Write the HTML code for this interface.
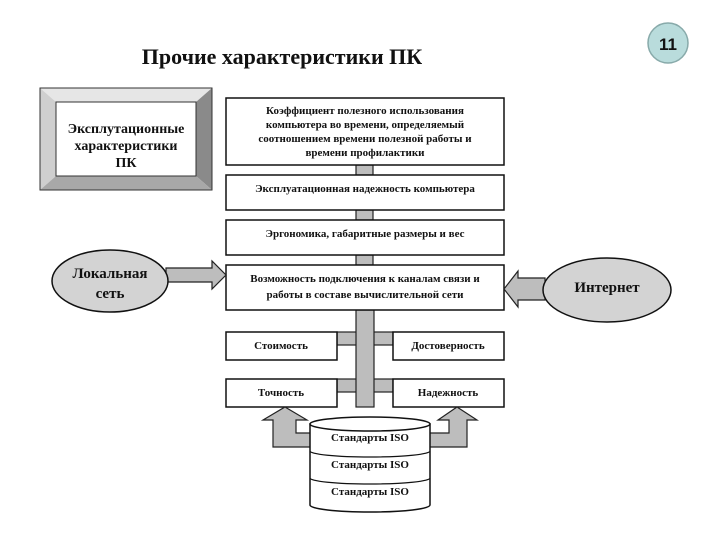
<!DOCTYPE html>
<html><head><meta charset="utf-8"><style>
body{margin:0;background:#fff}
svg{display:block}
text{font-family:"Liberation Serif",serif;font-weight:bold;fill:#111}
</style></head><body>
<svg width="720" height="540" viewBox="0 0 720 540">
<text x="282" y="64" font-size="22" text-anchor="middle">Прочие характеристики ПК</text>
<circle cx="668" cy="43" r="20" fill="#b9dcdc" stroke="#8aa" stroke-width="1.5"/>
<text x="668" y="50" font-size="17" text-anchor="middle" style="font-family:'Liberation Sans',sans-serif;font-weight:bold">11</text>
<!-- bevel -->
<polygon points="40,88 212,88 196,102 56,102" fill="#e6e6e6"/>
<polygon points="40,88 56,102 56,176 40,190" fill="#cfcfcf"/>
<polygon points="212,88 212,190 196,176 196,102" fill="#8a8a8a"/>
<polygon points="40,190 212,190 196,176 56,176" fill="#a8a8a8"/>
<rect x="40" y="88" width="172" height="102" fill="none" stroke="#333" stroke-width="1"/>
<rect x="56" y="102" width="140" height="74" fill="#fff" stroke="#333" stroke-width="1"/>
<text font-size="14" text-anchor="middle"><tspan x="126" y="133">Эксплутационные</tspan><tspan x="126" y="150">характеристики</tspan><tspan x="126" y="167">ПК</tspan></text>
<!-- connectors -->
<g fill="#bdbdbd" stroke="#222" stroke-width="1.2">
<rect x="356" y="165" width="17" height="10"/>
<rect x="356" y="210" width="17" height="10"/>
<rect x="356" y="255" width="17" height="10"/>
<rect x="337" y="332" width="56" height="13"/>
<rect x="337" y="379" width="56" height="13"/>
<rect x="356" y="310" width="18" height="97"/>
</g>
<g fill="#fff" stroke="#111" stroke-width="1.5">
<rect x="226" y="98" width="278" height="67"/>
<rect x="226" y="175" width="278" height="35"/>
<rect x="226" y="220" width="278" height="35"/>
<rect x="226" y="265" width="278" height="45"/>
<rect x="226" y="332" width="111" height="28"/>
<rect x="393" y="332" width="111" height="28"/>
<rect x="226" y="379" width="111" height="28"/>
<rect x="393" y="379" width="111" height="28"/>
</g>
<g font-size="11" text-anchor="middle">
<text x="365" y="114">Коэффициент полезного использования</text>
<text x="365" y="128">компьютера во времени, определяемый</text>
<text x="365" y="142">соотношением времени полезной работы и</text>
<text x="365" y="156">времени профилактики</text>
<text x="365" y="192">Эксплуатационная надежность компьютера</text>
<text x="365" y="237">Эргономика, габаритные размеры и вес</text>
<text x="365" y="282">Возможность подключения к каналам связи и</text>
<text x="365" y="298">работы в составе вычислительной сети</text>
<text x="281" y="349">Стоимость</text>
<text x="448" y="349">Достоверность</text>
<text x="281" y="396">Точность</text>
<text x="448" y="396">Надежность</text>
</g>
<!-- ellipses & arrows -->
<polygon points="166,268 212,268 212,261 226,275 212,289 212,282 166,282" fill="#bdbdbd" stroke="#222" stroke-width="1.2"/>
<ellipse cx="110" cy="281" rx="58" ry="31" fill="#d3d3d3" stroke="#111" stroke-width="1.5"/>
<text x="110" y="278" font-size="15" text-anchor="middle">Локальная</text>
<text x="110" y="298" font-size="15" text-anchor="middle">сеть</text>
<polygon points="545,278 518,278 518,271 504,289 518,307 518,300 545,300" fill="#bdbdbd" stroke="#222" stroke-width="1.2"/>
<ellipse cx="607" cy="290" rx="64" ry="32" fill="#d3d3d3" stroke="#111" stroke-width="1.5"/>
<text x="607" y="292" font-size="15" text-anchor="middle">Интернет</text>
<!-- up arrows -->
<polygon points="285,407 307,420 296,420 296,433 312,433 312,447 273,447 273,420 263,420" fill="#bdbdbd" stroke="#222" stroke-width="1.2"/>
<polygon points="457,407 477,420 467,420 467,447 428,447 428,433 449,433 449,420 438,420" fill="#bdbdbd" stroke="#222" stroke-width="1.2"/>
<!-- cylinder -->
<path d="M310,424 L310,505 A60,7 0 0 0 430,505 L430,424 Z" fill="#fff" stroke="#111" stroke-width="1.5"/>
<ellipse cx="370" cy="424" rx="60" ry="7" fill="#fff" stroke="#111" stroke-width="1.5"/>
<path d="M310,451 A60,6 0 0 0 430,451 M310,478 A60,6 0 0 0 430,478" fill="none" stroke="#111" stroke-width="1.2"/>
<g font-size="11" text-anchor="middle">
<text x="370" y="441">Стандарты ISO</text>
<text x="370" y="468">Стандарты ISO</text>
<text x="370" y="495">Стандарты ISO</text>
</g>
</svg>
</body></html>
